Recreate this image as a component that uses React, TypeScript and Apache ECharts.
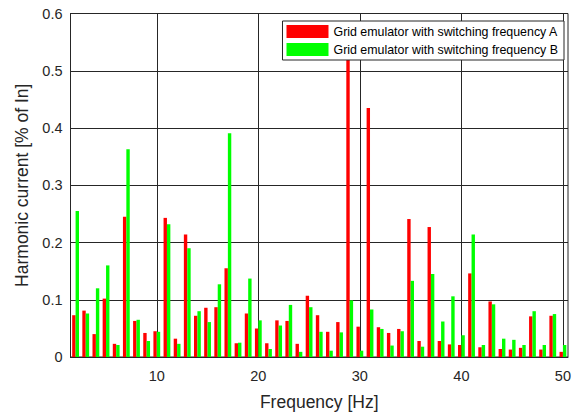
import React, { useEffect, useRef } from "react";
import * as echarts from "echarts";

const frequencies = [
  2, 3, 4, 5, 6, 7, 8, 9, 10, 11, 12, 13, 14, 15, 16, 17, 18, 19, 20, 21, 22, 23, 24, 25, 26,
  27, 28, 29, 30, 31, 32, 33, 34, 35, 36, 37, 38, 39, 40, 41, 42, 43, 44, 45, 46, 47, 48, 49, 50,
];
const seriesA = [
  0.073, 0.081, 0.04, 0.102, 0.023, 0.245, 0.063, 0.042, 0.045, 0.243, 0.032, 0.214, 0.072,
  0.086, 0.087, 0.155, 0.024, 0.076, 0.05, 0.024, 0.064, 0.063, 0.023, 0.107, 0.073, 0.044,
  0.061, 0.56, 0.053, 0.435, 0.052, 0.042, 0.049, 0.241, 0.028, 0.227, 0.028, 0.022, 0.021,
  0.146, 0.017, 0.097, 0.014, 0.013, 0.016, 0.071, 0.013, 0.072, 0.009,
];
const seriesB = [
  0.255, 0.076, 0.12, 0.16, 0.021, 0.363, 0.065, 0.028, 0.044, 0.232, 0.023, 0.19, 0.08,
  0.061, 0.127, 0.391, 0.025, 0.137, 0.064, 0.014, 0.055, 0.091, 0.009, 0.087, 0.044, 0.011,
  0.043, 0.099, 0.011, 0.083, 0.049, 0.02, 0.045, 0.133, 0.018, 0.145, 0.062, 0.106, 0.038,
  0.214, 0.021, 0.092, 0.032, 0.03, 0.021, 0.08, 0.021, 0.075, 0.021,
];
const xTicks = [10, 20, 30, 40, 50];
const seriesNames = [
  "Grid emulator with switching frequency A",
  "Grid emulator with switching frequency B",
];

const FONT = "'Liberation Sans', Arial, Helvetica, sans-serif";
const TXT = "#262626";

export default function App() {
  const ref = useRef<HTMLDivElement>(null);
  useEffect(() => {
    if (!ref.current) return;
    const chart = echarts.init(ref.current, undefined, { renderer: "svg" });
    chart.setOption({
      animation: false,
      backgroundColor: "#ffffff",
      textStyle: { fontFamily: FONT },
      grid: {
        left: 70.5,
        right: 12,
        top: 13.5,
        bottom: 54,
        show: true,
        borderColor: TXT,
        borderWidth: 1,
        backgroundColor: "transparent",
      },
      legend: {
        right: 16,
        top: 21,
        orient: "vertical",
        z: 20,
        itemWidth: 42,
        itemHeight: 13,
        itemGap: 5,
        padding: [4, 6, 4, 4],
        backgroundColor: "#ffffff",
        borderColor: TXT,
        borderWidth: 1,
        borderRadius: 0,
        icon: "rect",
        textStyle: { fontFamily: FONT, fontSize: 12.4, color: "#000000" },
        data: seriesNames,
      },
      xAxis: {
        type: "value",
        min: 1.5,
        max: 50.5,
        name: "Frequency [Hz]",
        nameLocation: "middle",
        nameGap: 36,
        nameTextStyle: { fontFamily: FONT, fontSize: 17.5, color: TXT },
        axisLine: { show: true, lineStyle: { color: TXT, width: 1 } },
        axisTick: { show: true, inside: true, length: 5, customValues: xTicks, lineStyle: { color: TXT } },
        axisLabel: { customValues: xTicks, fontFamily: FONT, fontSize: 14.5, color: TXT, margin: 11 },
        splitLine: { show: true, lineStyle: { color: TXT, width: 1 } },
      },
      yAxis: {
        type: "value",
        min: 0,
        max: 0.6,
        interval: 0.1,
        name: "Harmonic current [% of In]",
        nameLocation: "middle",
        nameGap: 35,
        nameTextStyle: { fontFamily: FONT, fontSize: 17.5, color: TXT },
        axisLine: { show: true, lineStyle: { color: TXT, width: 1 } },
        axisTick: { show: true, inside: true, length: 5, lineStyle: { color: TXT } },
        axisLabel: {
          fontFamily: FONT,
          fontSize: 14.5,
          color: TXT,
          margin: 8,
          formatter: (v: number) => (v === 0 ? "0" : String(Math.round(v * 10) / 10)),
        },
        splitLine: { show: true, lineStyle: { color: TXT, width: 1 } },
      },
      series: [
        {
          name: seriesNames[0],
          type: "bar",
          barWidth: 3.4,
          barGap: "0%",
          itemStyle: { color: "#ff0000" },
          data: frequencies.map((f, i) => [f, seriesA[i]]),
        },
        {
          name: seriesNames[1],
          type: "bar",
          barWidth: 3.4,
          barGap: "0%",
          itemStyle: { color: "#00ff00" },
          data: frequencies.map((f, i) => [f, seriesB[i]]),
        },
      ],
    });
    return () => chart.dispose();
  }, []);
  return <div ref={ref} style={{ width: 580, height: 416, position: "absolute", left: 0, top: 0 }} />;
}
